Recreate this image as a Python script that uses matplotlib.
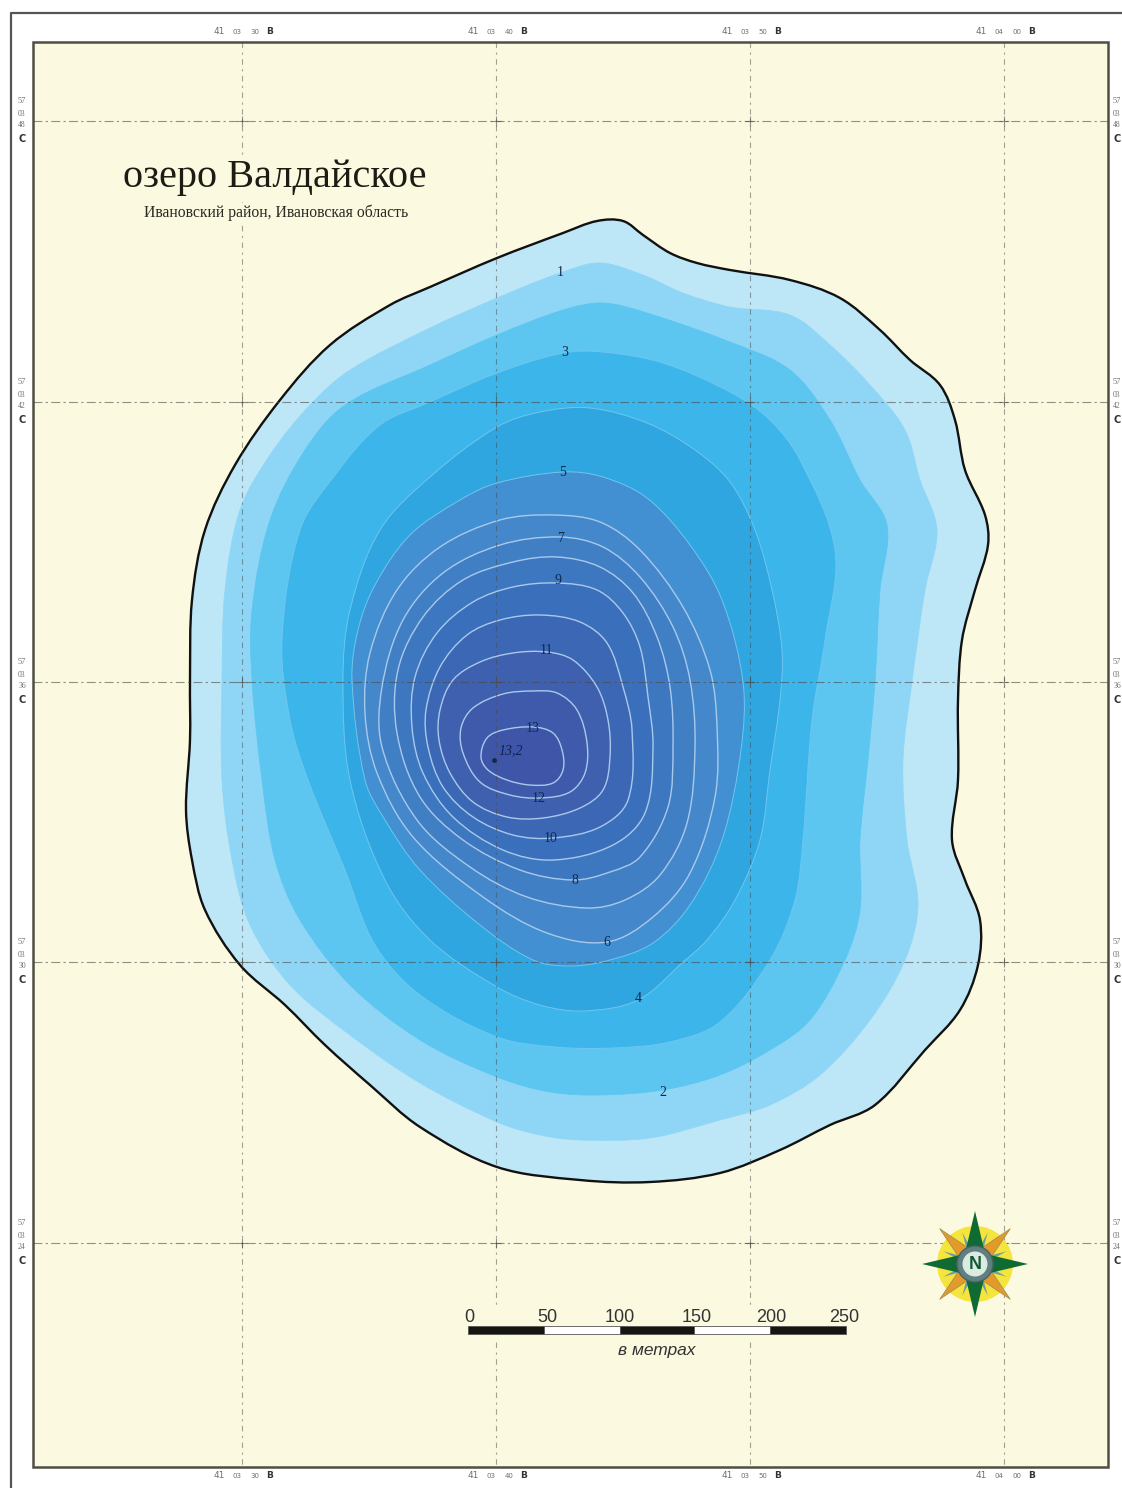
"""Depth map of lake Valdayskoye, drawn in image pixel coordinates."""
import numpy as np
import matplotlib
matplotlib.use("Agg")
import matplotlib.pyplot as plt
from matplotlib.patches import Circle, PathPatch, Polygon, Rectangle
from matplotlib.path import Path

WIDTH, HEIGHT = 1122, 1488

# isobaths, (x, y) in pixels, shallow to deep
SHORE = [(597, 221), (623, 221), (643, 235), (670, 253), (697, 263), (730, 270), (790, 280), (840, 298), (880, 330),
         (910, 360), (940, 385), (955, 420), (965, 470), (985, 515), (988, 545), (975, 590), (962, 640), (958, 700),
         (958, 780), (952, 840), (965, 880), (980, 920), (978, 965), (960, 1010), (925, 1050), (875, 1105), (830, 1125),
         (780, 1150), (720, 1173), (650, 1182), (580, 1180), (497, 1167), (420, 1127), (370, 1085), (325, 1045),
         (285, 1005), (240, 965), (205, 910), (192, 860), (186, 810), (190, 740), (190, 680), (192, 600), (205, 530),
         (235, 465), (280, 400), (330, 345), (390, 305), (430, 287), (497, 258), (563, 233)]
DEPTH_1 = [(560, 273), (600, 263), (643, 275), (683, 293), (730, 307), (790, 315), (830, 345), (870, 385), (905, 430),
           (920, 480), (937, 530), (925, 590), (912, 682), (903, 760), (907, 840), (918, 905), (905, 960), (870, 1020),
           (820, 1075), (770, 1105), (720, 1120), (650, 1138), (580, 1140), (540, 1135), (497, 1122), (420, 1083),
           (350, 1035), (290, 985), (250, 925), (232, 860), (222, 780), (222, 680), (225, 590), (240, 510), (270, 455),
           (310, 405), (350, 370), (430, 328), (497, 298)]
DEPTH_2 = [(563, 310), (603, 303), (647, 313), (730, 342), (790, 370), (830, 420), (860, 480), (887, 525), (880, 590),
           (875, 682), (868, 760), (860, 840), (860, 910), (845, 960), (810, 1020), (770, 1050), (720, 1075),
           (663, 1090), (600, 1095), (550, 1092), (497, 1077), (420, 1040), (350, 985), (300, 920), (275, 860),
           (262, 780), (252, 680), (252, 610), (270, 520), (305, 450), (345, 405), (430, 365), (497, 335)]
DEPTH_3 = [(563, 353), (603, 352), (663, 363), (730, 392), (770, 420), (800, 460), (835, 550), (825, 640), (812, 720),
           (803, 840), (795, 900), (770, 960), (720, 1022), (670, 1042), (613, 1048), (555, 1047), (497, 1037),
           (420, 995), (375, 945), (345, 870), (308, 780), (290, 720), (282, 640), (300, 530), (335, 475), (380, 425),
           (430, 402), (497, 373)]
DEPTH_4 = [(540, 412), (590, 408), (647, 423), (695, 450), (730, 482), (755, 530), (772, 590), (782, 650), (780, 700),
           (770, 770), (760, 840), (735, 900), (707, 940), (683, 962), (638, 1000), (583, 1011), (540, 1005), (497, 987),
           (430, 940), (385, 880), (350, 780), (343, 680), (350, 610), (380, 530), (430, 477), (497, 427)]
DEPTH_5 = [(563, 472), (603, 477), (647, 498), (690, 545), (722, 600), (743, 682), (741, 750), (722, 840), (690, 905),
           (653, 943), (610, 960), (570, 966), (533, 960), (480, 925), (420, 870), (385, 820), (365, 780), (352, 680),
           (358, 630), (375, 585), (410, 535), (460, 500), (497, 483)]
DEPTH_6 = [(553, 515), (600, 522), (640, 550), (683, 607), (710, 670), (717, 727), (715, 797), (690, 873), (653, 917),
           (607, 942), (547, 933), (483, 897), (413, 837), (377, 773), (365, 713), (370, 653), (397, 590), (440, 547),
           (500, 520)]
DEPTH_7 = [(560, 537), (603, 547), (640, 577), (673, 627), (690, 680), (695, 747), (687, 823), (660, 875), (625, 900),
           (587, 908), (527, 897), (470, 867), (417, 820), (382, 747), (382, 687), (403, 620), (443, 573), (500, 545)]
DEPTH_8 = [(557, 557), (600, 567), (633, 593), (657, 637), (670, 687), (673, 747), (668, 807), (640, 857), (610, 872),
           (573, 880), (520, 870), (463, 840), (420, 797), (397, 733), (398, 670), (423, 617), (463, 580), (513, 562)]
DEPTH_9 = [(557, 583), (597, 590), (623, 613), (640, 647), (648, 697), (653, 747), (645, 813), (613, 845), (553, 860),
           (503, 850), (453, 817), (423, 773), (412, 727), (415, 677), (437, 633), (473, 602), (513, 587)]
DEPTH_10 = [(540, 615), (580, 622), (607, 643), (623, 687), (632, 730), (628, 800), (600, 827), (553, 838), (513, 835),
            (473, 817), (443, 787), (428, 747), (426, 710), (440, 667), (467, 635), (500, 620)]
DEPTH_11 = [(547, 652), (573, 660), (597, 687), (608, 720), (610, 757), (603, 790), (580, 808), (543, 818), (507, 817),
            (473, 802), (450, 773), (439, 740), (440, 710), (453, 680), (480, 662), (513, 653)]
DEPTH_12 = [(533, 691), (557, 693), (577, 710), (587, 743), (585, 773), (570, 792), (540, 798), (510, 795), (480, 782),
            (463, 753), (461, 728), (473, 708), (503, 694)]
DEPTH_13 = [(533, 727), (553, 733), (562, 750), (563, 770), (553, 783), (530, 785), (507, 780), (488, 770), (481, 757),
            (487, 738), (503, 730)]

ISOBATHS = [SHORE, DEPTH_1, DEPTH_2, DEPTH_3, DEPTH_4, DEPTH_5, DEPTH_6, DEPTH_7, DEPTH_8, DEPTH_9, DEPTH_10,
            DEPTH_11, DEPTH_12, DEPTH_13]
BAND_COLORS = ["#bde6f7", "#8fd6f6", "#5cc6f0", "#3cb6ea", "#2fa6df", "#4290d1", "#4488cb", "#417fc5", "#3d77bf",
               "#3a70bb", "#3c67b4", "#3e60af", "#3f5aab", "#3f55a8"]

DEPTH_LABELS = ["1", "3", "5", "7", "9", "11", "13", "12", "10", "8", "6", "4", "2"]
DEPTH_LABEL_X = [560, 565, 563, 561, 558, 546, 533, 539, 551, 575, 607, 638, 663]
DEPTH_LABEL_Y = [272, 352, 472, 538, 581, 651, 728, 798, 839, 881, 942, 998, 1093]

GRID_X = [242, 496, 750, 1004]
GRID_Y = [121, 402, 682, 962, 1243]
LON_MIN = ["03", "03", "03", "04"]
LON_SEC = ["30", "40", "50", "00"]
LAT_SEC = ["48", "42", "36", "30", "24"]

SCALE_VALUES = [0, 50, 100, 150, 200, 250]
SCALE_X = [468, 544, 620, 694, 770, 846]
SCALE_LABEL_X = [469, 547, 620, 697, 771, 844]

MAP_BG = "#fbfae0"
GRID_COLOR = "#4a4a45"
TICK_GRAY = "#6e6e6e"
SERIF = ["Liberation Serif", "DejaVu Serif"]
SANS = ["Liberation Sans", "DejaVu Sans"]


def smooth_path(points):
    """Closed smooth curve through the points; handles follow the segment length so uneven spacing stays round."""
    pts = np.array(points, dtype=float)
    n = len(pts)
    tangents = pts[np.r_[1:n, 0]] - pts[np.r_[n - 1, 0:n - 1]]
    tangents /= np.linalg.norm(tangents, axis=1, keepdims=True)
    verts = [pts[0]]
    codes = [Path.MOVETO]
    for i in range(n):
        j = (i + 1) % n
        seg = np.linalg.norm(pts[j] - pts[i])
        verts += [pts[i] + tangents[i] * seg / 3, pts[j] - tangents[j] * seg / 3, pts[j]]
        codes += [Path.CURVE4] * 3
    return Path(verts, codes)


def star_points(cx, cy, angle, length, half_width):
    """Kite pointing along angle (degrees, clockwise from north)."""
    a = np.radians(angle)
    d = np.array([np.sin(a), -np.cos(a)])
    s = np.array([d[1], -d[0]])
    c = np.array([cx, cy])
    return [c, c + d * length * 0.28 + s * half_width, c + d * length, c + d * length * 0.28 - s * half_width]


def draw_compass(ax, cx, cy):
    ax.add_patch(Circle((cx, cy), 38, fc="#f4e43c", ec="none", zorder=7))
    for angle in [45, 135, 225, 315]:
        ax.add_patch(Polygon(star_points(cx, cy, angle, 50, 7), fc="#e39a2c", ec="#9a8a55", lw=0.5, zorder=8))
    for angle in [22, 68, 112, 158, 202, 248, 292, 338]:
        ax.add_patch(Polygon(star_points(cx, cy, angle, 34, 3), fc="#6f9fa0", ec="none", zorder=8))
    for angle in [0, 90, 180, 270]:
        ax.add_patch(Polygon(star_points(cx, cy, angle, 53, 9), fc="#0f6a34", ec="none", zorder=9))
    ax.add_patch(Circle((cx, cy), 18, fc="#5f7f80", ec="#4a6266", lw=1, zorder=10))
    ax.add_patch(Circle((cx, cy), 12.5, fc="#dcebe2", ec="none", zorder=11))
    ax.text(cx, cy + 0.5, "N", color="#0f5a34", fontsize=13, fontweight="bold", family=SANS,
            ha="center", va="center", zorder=12)


fig = plt.figure(figsize=(WIDTH / 100, HEIGHT / 100), dpi=100, facecolor="white")
ax = fig.add_axes([0, 0, 1, 1])
ax.set_xlim(0, WIDTH)
ax.set_ylim(HEIGHT, 0)
ax.axis("off")

# frames
ax.plot([1122, 11, 11], [13, 13, 1488], color="#555555", lw=1.6, zorder=1)
ax.add_patch(Rectangle((33, 42), 1075, 1425, fc=MAP_BG, ec="#4f4f45", lw=1.8, zorder=2))

# depth bands, each isobath painted over the shallower one
ax.add_patch(PathPatch(smooth_path(SHORE), fc=BAND_COLORS[0], ec="none", zorder=2.9))
for i, (points, color) in enumerate(zip(ISOBATHS, BAND_COLORS)):
    if i == 0:
        continue
    if i >= 6:
        edge, width = "#a9c9ec", 1.0
    elif i >= 3:
        edge, width = "#6fc6ee", 0.7
    else:
        edge, width = color, 0.5
    ax.add_patch(PathPatch(smooth_path(points), fc=color, ec=edge, lw=width, zorder=3 + i * 0.01))
ax.add_patch(PathPatch(smooth_path(SHORE), fc="none", ec="#111111", lw=1.7, zorder=3.5))

# graticule
for x in GRID_X:
    ax.plot([x, x], [42, 1467], color=GRID_COLOR, lw=0.8, alpha=0.5, ls=(0, (5, 4, 2, 4)), zorder=4)
for y in GRID_Y:
    ax.plot([33, 1108], [y, y], color=GRID_COLOR, lw=0.8, alpha=0.6, ls=(0, (8, 3, 2, 3)), zorder=4)
for x in GRID_X:
    for y in GRID_Y:
        ax.plot(x, y, marker="+", ms=7, mew=0.8, color=GRID_COLOR, alpha=0.6, zorder=4)

# coordinate labels round the frame
for x, minute, sec in zip(GRID_X, LON_MIN, LON_SEC):
    for y in [32, 1476]:
        ax.text(x - 23, y, "41", color=TICK_GRAY, fontsize=6.5, ha="center", va="center")
        ax.text(x - 5, y, minute, color=TICK_GRAY, fontsize=5, ha="center", va="center")
        ax.text(x + 13, y, sec, color=TICK_GRAY, fontsize=5, ha="center", va="center")
        ax.text(x + 28, y, "В", color="#333333", fontsize=6.5, fontweight="bold", ha="center", va="center")
for y, sec in zip(GRID_Y, LAT_SEC):
    for x in [22, 1117]:
        ax.text(x, y - 20, "57", color=TICK_GRAY, fontsize=6, ha="center", va="center", family=SERIF)
        ax.text(x, y - 7, "03", color=TICK_GRAY, fontsize=5.5, ha="center", va="center", family=SERIF)
        ax.text(x, y + 4, sec, color=TICK_GRAY, fontsize=5.5, ha="center", va="center", family=SERIF)
        ax.text(x, y + 18, "С", color="#333333", fontsize=7, fontweight="bold", ha="center", va="center")

# title
bg = dict(facecolor=MAP_BG, edgecolor="none", pad=1)
ax.text(275, 178, "озеро Валдайское", fontsize=29, family=SERIF, color="#1c1c14", ha="center", va="center",
        bbox=bg, zorder=6)
ax.text(276, 213, "Ивановский район, Ивановская область", fontsize=11.3, family=SERIF, color="#2a2a22",
        ha="center", va="center", bbox=bg, zorder=6)

# depth labels
for label, x, y in zip(DEPTH_LABELS, DEPTH_LABEL_X, DEPTH_LABEL_Y):
    ax.text(x, y, label, fontsize=10, family=SERIF, color="#0f2a4f", ha="center", va="center", zorder=6)
ax.plot(494, 760, marker="o", ms=2.5, color="#0f2a4f", zorder=6)
ax.text(511, 751, "13,2", fontsize=10, family=SERIF, style="italic", color="#0f2050", ha="center", va="center",
        zorder=6)

# scale bar
ax.add_patch(Rectangle((458, 1305), 405, 37, fc=MAP_BG, ec="none", zorder=5))
for i in range(len(SCALE_X) - 1):
    color = "#161610" if i % 2 == 0 else "white"
    ax.add_patch(Rectangle((SCALE_X[i], 1326), SCALE_X[i + 1] - SCALE_X[i], 8, fc=color, ec="#555555", lw=0.6,
                           zorder=6))
for value, x in zip(SCALE_VALUES, SCALE_LABEL_X):
    ax.text(x, 1317, str(value), fontsize=13, family=SANS, color="#333333", ha="center", va="center", zorder=6)
ax.text(657, 1350, "в метрах", fontsize=12.5, family=SANS, style="italic", color="#333333", ha="center",
        va="center", zorder=6, bbox=bg)

draw_compass(ax, 975, 1264)

fig.savefig("out.png", dpi=100, facecolor="white")
